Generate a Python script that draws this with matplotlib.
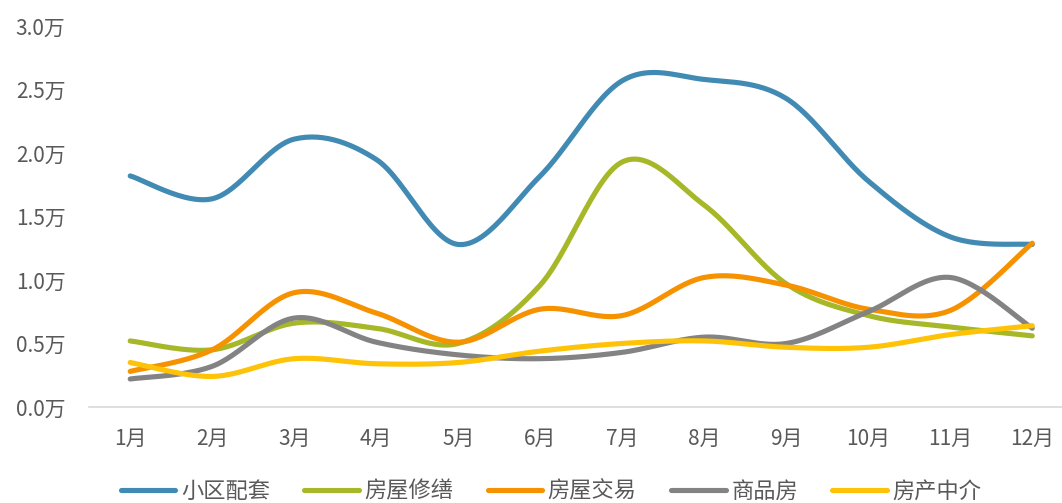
import numpy as np
import matplotlib
matplotlib.use("Agg")
import matplotlib.pyplot as plt

plt.rcParams['font.family'] = ['Noto Sans CJK SC', 'DejaVu Sans']

months = ['1月', '2月', '3月', '4月', '5月', '6月', '7月', '8月', '9月', '10月', '11月', '12月']
# values in 万
xiaoqu = [1.82, 1.64, 2.11, 1.95, 1.28, 1.82, 2.57, 2.58, 2.43, 1.78, 1.34, 1.28]
xiushan = [0.52, 0.45, 0.66, 0.62, 0.50, 0.96, 1.93, 1.59, 0.97, 0.72, 0.63, 0.56]
jiaoyi = [0.28, 0.45, 0.90, 0.74, 0.51, 0.77, 0.72, 1.02, 0.96, 0.77, 0.76, 1.29]
shangpin = [0.22, 0.32, 0.70, 0.51, 0.41, 0.38, 0.43, 0.55, 0.50, 0.75, 1.02, 0.62]
zhongjie = [0.35, 0.24, 0.38, 0.34, 0.35, 0.44, 0.50, 0.52, 0.47, 0.47, 0.57, 0.64]

names = ['小区配套', '房屋修缮', '房屋交易', '商品房', '房产中介']
colors = ['#418AB3', '#A6B727', '#F69200', '#838383', '#FEC306']
series = [xiaoqu, xiushan, jiaoyi, shangpin, zhongjie]


def smooth(y, n=30):
    # catmull-rom style smoothing like excel "smoothed line"
    y = np.asarray(y, float)
    x = np.arange(len(y), dtype=float)
    px = np.concatenate([[x[0]], x, [x[-1]]])
    py = np.concatenate([[y[0]], y, [y[-1]]])
    xs, ys = [], []
    for i in range(1, len(px) - 2):
        p0, p1, p2, p3 = py[i - 1], py[i], py[i + 1], py[i + 2]
        q0, q1, q2, q3 = px[i - 1], px[i], px[i + 1], px[i + 2]
        c1y = p1 + (p2 - p0) / 6
        c2y = p2 - (p3 - p1) / 6
        c1x = q1 + (q2 - q0) / 6
        c2x = q2 - (q3 - q1) / 6
        t = np.linspace(0, 1, n)
        b0 = (1 - t) ** 3
        b1 = 3 * (1 - t) ** 2 * t
        b2 = 3 * (1 - t) * t ** 2
        b3 = t ** 3
        xs.append(b0 * q1 + b1 * c1x + b2 * c2x + b3 * q2)
        ys.append(b0 * p1 + b1 * c1y + b2 * c2y + b3 * p2)
    return np.concatenate(xs), np.concatenate(ys)


fig = plt.figure(figsize=(10.62, 5.03), dpi=100)
# plot area runs a little past the right edge of the picture
ax = fig.add_axes([0.084, 0.191, 0.9266, 0.757])

for vals, name, c in zip(series, names, colors):
    sx, sy = smooth(vals)
    ax.plot(sx, sy, color=c, lw=3.7, label=name, solid_capstyle='round')

ax.set_xlim(-0.5, 11.5)
ax.set_ylim(0, 3.0)
ax.set_xticks(range(len(months)))
ax.set_xticklabels(months)
ax.set_yticks(np.arange(0, 3.01, 0.5))
ax.set_yticklabels(['%.1f万' % v for v in np.arange(0, 3.01, 0.5)])

for s in ['top', 'right', 'left']:
    ax.spines[s].set_visible(False)
ax.spines['bottom'].set_color('#D9D9D9')
ax.spines['bottom'].set_linewidth(1.2)
ax.tick_params(axis='both', length=0, colors='#595959', labelsize=15)
ax.tick_params(axis='x', pad=15)
ax.tick_params(axis='y', pad=17)

fig.legend(loc='center', bbox_to_anchor=(0.519, 0.024), ncol=5, frameon=False,
           fontsize=16, handlelength=2.45, handletextpad=0.25, columnspacing=1.55,
           labelcolor='#595959')

fig.savefig('out.png', dpi=100)
